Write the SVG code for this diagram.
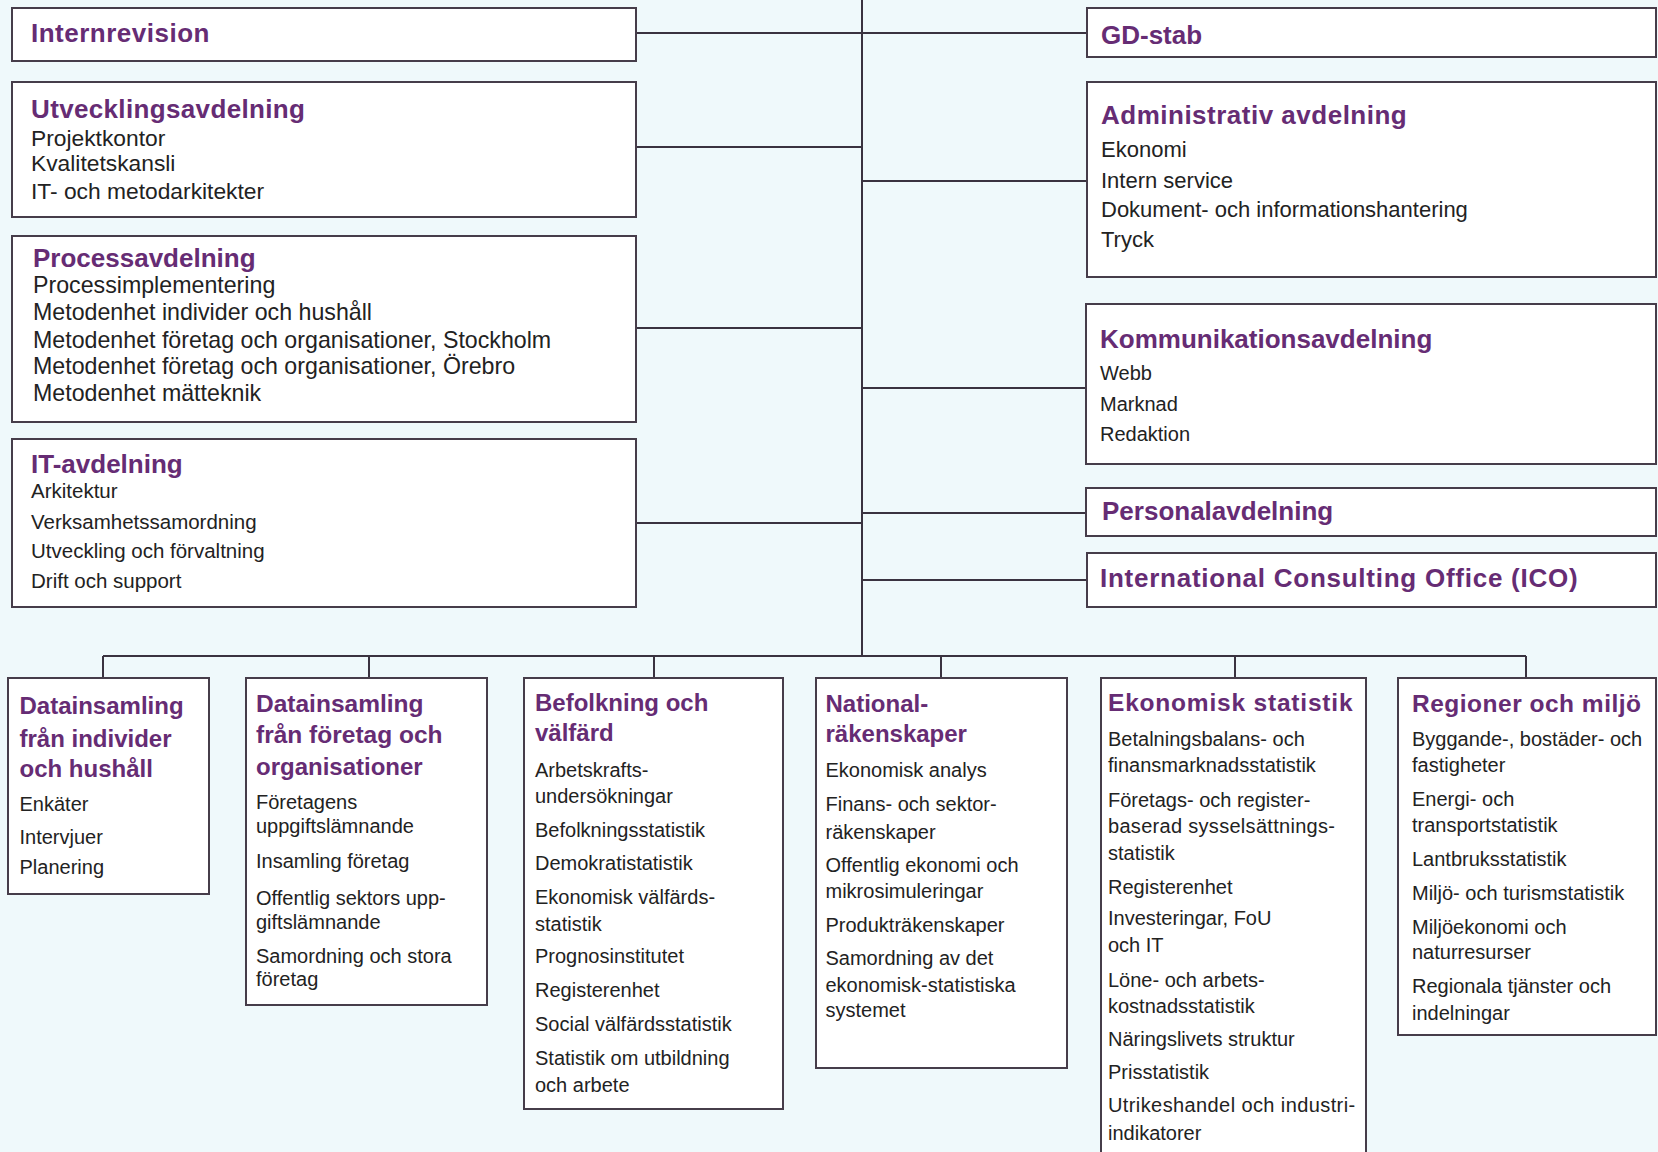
<svg xmlns="http://www.w3.org/2000/svg" width="1658" height="1152" viewBox="0 0 1658 1152">
<style>
.bg{fill:#eff9fb}
.box{fill:#ffffff;stroke:#463d4a;stroke-width:2}
.ln{fill:none;stroke:#3a3340;stroke-width:2}
text{font-family:"Liberation Sans",Arial,sans-serif;fill:#222222}
.t{font-weight:bold;font-size:26px;fill:#662c74}
.bt{font-weight:bold;font-size:24.5px;fill:#662c74}
.bt4{font-weight:bold;font-size:24px;fill:#662c74}
.i{font-size:22px}
.bi{font-size:20px}
.pi{font-size:23.2px}
.ui{font-size:22.8px}
.ii{font-size:20.5px}
.ki{font-size:20px}
</style>
<rect class="bg" x="0" y="0" width="1658" height="1152"/>
<g id="connectors">
<path class="ln" d="M862,0 V656"/>
<path class="ln" d="M636,33 H862 M636,147 H862 M636,328 H862 M636,523 H862"/>
<path class="ln" d="M862,33 H1087 M862,181 H1087 M862,388 H1086 M862,513 H1086 M862,580 H1087"/>
<path class="ln" d="M103,656 H1526"/>
<path class="ln" d="M103,656 V678 M369,656 V678 M654,656 V678 M941,656 V678 M1235,656 V678 M1526,656 V678"/>
</g>
<g id="internrevision">
<rect class="box" x="12" y="8" width="624" height="53"/>
<text class="t" x="31" y="42" letter-spacing="0.5">Internrevision</text>
</g>
<g id="utvecklingsavdelning">
<rect class="box" x="12" y="82" width="624" height="135"/>
<text class="t" x="31" y="118" letter-spacing="0.35">Utvecklingsavdelning</text>
<text class="ui" x="31" y="145.5">Projektkontor</text>
<text class="ui" x="31" y="171">Kvalitetskansli</text>
<text class="ui" x="31" y="198.5">IT- och metodarkitekter</text>
</g>
<g id="processavdelning">
<rect class="box" x="12" y="236" width="624" height="186"/>
<text class="t" x="33" y="266.5">Processavdelning</text>
<text class="pi" x="33" y="293">Processimplementering</text>
<text class="pi" x="33" y="320">Metodenhet individer och hushåll</text>
<text class="pi" x="33" y="348">Metodenhet företag och organisationer, Stockholm</text>
<text class="pi" x="33" y="373.5">Metodenhet företag och organisationer, Örebro</text>
<text class="pi" x="33" y="401">Metodenhet mätteknik</text>
</g>
<g id="it-avdelning">
<rect class="box" x="12" y="439" width="624" height="168"/>
<text class="t" x="31" y="473">IT-avdelning</text>
<text class="ii" x="31" y="498">Arkitektur</text>
<text class="ii" x="31" y="529">Verksamhetssamordning</text>
<text class="ii" x="31" y="558">Utveckling och förvaltning</text>
<text class="ii" x="31" y="588">Drift och support</text>
</g>
<g id="gd-stab">
<rect class="box" x="1087" y="8" width="569" height="49"/>
<text class="t" x="1101" y="44">GD-stab</text>
</g>
<g id="administrativ-avdelning">
<rect class="box" x="1087" y="82" width="569" height="195"/>
<text class="t" x="1101" y="124" letter-spacing="0.5">Administrativ avdelning</text>
<text class="i" x="1101" y="157">Ekonomi</text>
<text class="i" x="1101" y="187.5">Intern service</text>
<text class="i" x="1101" y="217">Dokument- och informationshantering</text>
<text class="i" x="1101" y="246.5">Tryck</text>
</g>
<g id="kommunikationsavdelning">
<rect class="box" x="1086" y="304" width="570" height="160"/>
<text class="t" x="1100" y="348">Kommunikationsavdelning</text>
<text class="ki" x="1100" y="380">Webb</text>
<text class="ki" x="1100" y="411">Marknad</text>
<text class="ki" x="1100" y="441">Redaktion</text>
</g>
<g id="personalavdelning">
<rect class="box" x="1086" y="488" width="570" height="48"/>
<text class="t" x="1102" y="519.5">Personalavdelning</text>
</g>
<g id="ico">
<rect class="box" x="1087" y="553" width="569" height="54"/>
<text class="t" x="1100" y="587" letter-spacing="0.75">International Consulting Office (ICO)</text>
</g>
<g id="datainsamling-individer">
<rect class="box" x="8" y="678" width="201" height="216"/>
<text class="bt4" x="19.5" y="714">Datainsamling</text>
<text class="bt4" x="19.5" y="746.5">från individer</text>
<text class="bt4" x="19.5" y="777">och hushåll</text>
<text class="bi" x="19.5" y="811">Enkäter</text>
<text class="bi" x="19.5" y="843.5">Intervjuer</text>
<text class="bi" x="19.5" y="874">Planering</text>
</g>
<g id="datainsamling-foretag">
<rect class="box" x="246" y="678" width="241" height="327"/>
<text class="bt" x="256" y="711.5">Datainsamling</text>
<text class="bt" x="256" y="743">från företag och</text>
<text class="bt4" x="256" y="775">organisationer</text>
<text class="bi" x="256" y="809">Företagens</text>
<text class="bi" x="256" y="833">uppgiftslämnande</text>
<text class="bi" x="256" y="868">Insamling företag</text>
<text class="bi" x="256" y="904.5">Offentlig sektors upp-</text>
<text class="bi" x="256" y="928.5">giftslämnande</text>
<text class="bi" x="256" y="963">Samordning och stora</text>
<text class="bi" x="256" y="985.5">företag</text>
</g>
<g id="befolkning">
<rect class="box" x="524" y="678" width="259" height="431"/>
<text class="bt4" x="535" y="711">Befolkning och</text>
<text class="bt4" x="535" y="741">välfärd</text>
<text class="bi" x="535" y="777">Arbetskrafts-</text>
<text class="bi" x="535" y="802.5">undersökningar</text>
<text class="bi" x="535" y="836.5">Befolkningsstatistik</text>
<text class="bi" x="535" y="870">Demokratistatistik</text>
<text class="bi" x="535" y="904">Ekonomisk välfärds-</text>
<text class="bi" x="535" y="930.5">statistik</text>
<text class="bi" x="535" y="963">Prognosinstitutet</text>
<text class="bi" x="535" y="997">Registerenhet</text>
<text class="bi" x="535" y="1031">Social välfärdsstatistik</text>
<text class="bi" x="535" y="1065">Statistik om utbildning</text>
<text class="bi" x="535" y="1091.5">och arbete</text>
</g>
<g id="nationalrakenskaper">
<rect class="box" x="816" y="678" width="251" height="390"/>
<text class="bt4" x="825.5" y="712">National-</text>
<text class="bt4" x="825.5" y="742">räkenskaper</text>
<text class="bi" x="825.5" y="777">Ekonomisk analys</text>
<text class="bi" x="825.5" y="811">Finans- och sektor-</text>
<text class="bi" x="825.5" y="838.5">räkenskaper</text>
<text class="bi" x="825.5" y="872">Offentlig ekonomi och</text>
<text class="bi" x="825.5" y="897.5">mikrosimuleringar</text>
<text class="bi" x="825.5" y="931.5">Produkträkenskaper</text>
<text class="bi" x="825.5" y="965">Samordning av det</text>
<text class="bi" x="825.5" y="992">ekonomisk-statistiska</text>
<text class="bi" x="825.5" y="1017">systemet</text>
</g>
<g id="ekonomisk-statistik">
<rect class="box" x="1101" y="678" width="265" height="490"/>
<text class="bt" x="1108" y="711" letter-spacing="0.8">Ekonomisk statistik</text>
<text class="bi" x="1108" y="745.5">Betalningsbalans- och</text>
<text class="bi" x="1108" y="772">finansmarknadsstatistik</text>
<text class="bi" x="1108" y="806.5">Företags- och register-</text>
<text class="bi" x="1108" y="832.5" letter-spacing="0.3">baserad sysselsättnings-</text>
<text class="bi" x="1108" y="859.5">statistik</text>
<text class="bi" x="1108" y="893.5">Registerenhet</text>
<text class="bi" x="1108" y="924.5">Investeringar, FoU</text>
<text class="bi" x="1108" y="952">och IT</text>
<text class="bi" x="1108" y="986.5">Löne- och arbets-</text>
<text class="bi" x="1108" y="1013">kostnadsstatistik</text>
<text class="bi" x="1108" y="1046">Näringslivets struktur</text>
<text class="bi" x="1108" y="1079">Prisstatistik</text>
<text class="bi" x="1108" y="1112" letter-spacing="0.4">Utrikeshandel och industri-</text>
<text class="bi" x="1108" y="1139.5">indikatorer</text>
</g>
<g id="regioner-och-miljo">
<rect class="box" x="1398" y="678" width="258" height="357"/>
<text class="bt" x="1412" y="711.5" letter-spacing="0.5">Regioner och miljö</text>
<text class="bi" x="1412" y="745.5">Byggande-, bostäder- och</text>
<text class="bi" x="1412" y="771.5">fastigheter</text>
<text class="bi" x="1412" y="806">Energi- och</text>
<text class="bi" x="1412" y="832">transportstatistik</text>
<text class="bi" x="1412" y="865.5">Lantbruksstatistik</text>
<text class="bi" x="1412" y="900">Miljö- och turismstatistik</text>
<text class="bi" x="1412" y="934">Miljöekonomi och</text>
<text class="bi" x="1412" y="959">naturresurser</text>
<text class="bi" x="1412" y="992.5">Regionala tjänster och</text>
<text class="bi" x="1412" y="1019.5">indelningar</text>
</g>
</svg>
